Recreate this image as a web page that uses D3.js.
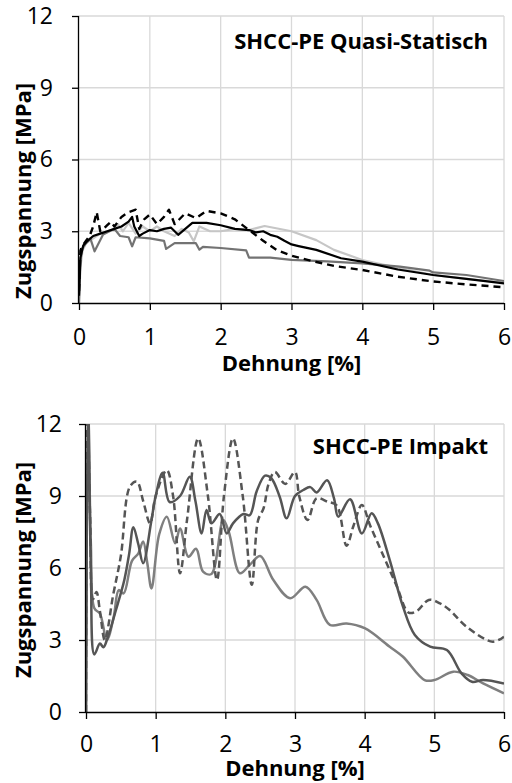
<!DOCTYPE html>
<html>
<head>
<meta charset="utf-8">
<script src="https://cdn.jsdelivr.net/npm/d3@7"></script>
<style>
  body { margin: 0; background: #fff; }
  svg { display: block; font-family: 'Open Sans', sans-serif; }
</style>
</head>
<body>
<div id="chart"></div>
<script>
// Achsen — gleiche Ticks in beiden Diagrammen
const xTicks = [0, 1, 2, 3, 4, 5, 6]
const yTicks = [0, 3, 6, 9, 12]

// Quasi-statisch — 4 Proben [Dehnung %, Spannung MPa]
const qsDashed = [[0,0.5],[0.02,2.2],[0.05,2.4],[0.1,2.6],[0.15,2.8],[0.2,3.2],[0.25,3.8],[0.3,3.0],[0.38,3.2],[0.45,3.4],[0.5,3.2],[0.6,3.6],[0.7,3.8],[0.8,3.9],[0.85,3.1],[0.92,3.5],[1.0,3.7],[1.1,3.3],[1.2,3.6],[1.27,3.9],[1.35,3.3],[1.5,3.75],[1.65,3.55],[1.8,3.85],[2.0,3.75],[2.2,3.5],[2.4,3.05],[2.6,2.6],[2.8,2.2],[3.0,1.98],[3.3,1.75],[3.6,1.55],[4.0,1.38],[4.5,1.1],[5.0,0.9],[5.5,0.77],[6.0,0.66]]
const qsBlack = [[0,0.3],[0.02,1.9],[0.06,2.4],[0.12,2.6],[0.2,2.8],[0.3,2.9],[0.4,3.0],[0.5,3.1],[0.6,3.2],[0.7,3.4],[0.75,3.6],[0.78,3.2],[0.85,2.8],[0.9,2.9],[1.0,3.05],[1.1,3.0],[1.2,3.1],[1.3,3.15],[1.4,2.85],[1.5,3.1],[1.6,3.35],[1.8,3.35],[2.0,3.25],[2.2,3.1],[2.4,3.05],[2.5,2.95],[2.6,3.0],[2.7,2.85],[2.8,2.77],[2.9,2.6],[3.0,2.45],[3.1,2.38],[3.35,2.22],[3.7,1.87],[4.0,1.73],[4.5,1.4],[5.0,1.17],[5.5,1.0],[6.0,0.82]]
const qsLight = [[0,0],[0.02,1.5],[0.05,2.2],[0.1,2.5],[0.2,2.7],[0.3,2.9],[0.4,3.0],[0.5,3.1],[0.55,3.3],[0.62,3.0],[0.7,3.35],[0.8,2.9],[0.9,3.2],[1.0,3.0],[1.1,3.2],[1.2,3.0],[1.35,2.8],[1.45,3.1],[1.55,2.95],[1.62,2.58],[1.7,3.2],[1.85,3.0],[2.0,3.0],[2.2,3.1],[2.4,3.05],[2.62,3.22],[3.0,3.0],[3.35,2.63],[3.6,2.22],[4.0,1.8],[4.5,1.47],[5.0,1.17],[5.5,1.0],[6.0,0.85]]
const qsDark = [[0,0],[0.02,1.8],[0.05,2.3],[0.1,2.5],[0.16,2.7],[0.22,2.16],[0.34,2.86],[0.5,3.1],[0.58,2.8],[0.7,2.75],[0.75,2.37],[0.8,2.75],[1.0,2.7],[1.2,2.6],[1.23,2.26],[1.35,2.5],[1.65,2.5],[1.7,2.23],[1.75,2.35],[2.0,2.3],[2.36,2.2],[2.4,1.9],[2.7,1.9],[3.0,1.8],[3.5,1.74],[4.0,1.66],[4.53,1.52],[4.95,1.35],[5.0,1.28],[5.47,1.17],[6.0,0.92]]

// Impakt — 3 Proben
const imSolid = [[0,0],[0.03,13],[0.07,6],[0.12,2.4],[0.2,2.85],[0.25,2.7],[0.3,3.0],[0.43,4.25],[0.55,5.5],[0.62,6.6],[0.68,7.7],[0.75,7.0],[0.82,6.2],[0.94,8.0],[1.0,9.0],[1.1,9.97],[1.2,8.75],[1.35,9.0],[1.49,9.8],[1.57,8.8],[1.66,7.44],[1.73,8.42],[1.8,7.86],[1.92,8.25],[2.02,7.44],[2.11,7.86],[2.26,8.25],[2.35,8.2],[2.45,9.2],[2.57,9.85],[2.66,9.74],[2.78,8.97],[2.88,8.07],[3.0,9.0],[3.12,9.25],[3.22,9.37],[3.31,9.15],[3.46,9.66],[3.56,8.9],[3.62,8.14],[3.79,8.86],[3.96,7.44],[4.1,8.28],[4.19,7.86],[4.36,6.33],[4.55,4.39],[4.72,3.21],[4.94,2.72],[5.18,2.58],[5.39,1.61],[5.54,1.26],[5.7,1.33],[6.0,1.19]]
const imDashed = [[0,0],[0.02,13],[0.06,8],[0.1,4.7],[0.15,5.0],[0.2,4.2],[0.27,3.0],[0.39,4.88],[0.5,6.5],[0.63,9.39],[0.73,9.6],[0.82,8.8],[0.92,7.86],[1.0,9.0],[1.16,10.08],[1.25,9.0],[1.35,5.78],[1.45,8.0],[1.61,11.4],[1.75,9.0],[1.88,5.5],[1.98,9.0],[2.11,11.4],[2.25,9.0],[2.38,5.3],[2.47,7.99],[2.55,8.5],[2.62,9.5],[2.71,10.0],[2.86,9.5],[3.0,10.0],[3.06,9.0],[3.18,8.0],[3.31,8.9],[3.47,8.76],[3.6,8.6],[3.74,6.93],[3.84,7.76],[3.96,8.62],[4.08,7.76],[4.27,6.5],[4.46,5.25],[4.63,4.14],[4.75,4.21],[4.92,4.67],[5.08,4.53],[5.22,4.25],[5.46,3.56],[5.84,2.93],[6.0,3.14]]
const imLight = [[0,0],[0.03,13],[0.07,7],[0.12,4.32],[0.2,4.1],[0.3,3.0],[0.4,4.0],[0.47,5.08],[0.54,4.94],[0.66,6.3],[0.75,6.6],[0.82,7.1],[0.88,6.2],[0.94,5.15],[1.05,7.4],[1.16,8.14],[1.28,7.03],[1.35,7.65],[1.47,6.47],[1.58,6.8],[1.68,5.85],[1.8,5.75],[1.97,8.0],[2.05,7.5],[2.21,5.78],[2.35,6.13],[2.5,6.5],[2.69,5.5],[2.93,4.74],[3.15,5.22],[3.31,4.67],[3.5,3.63],[3.74,3.69],[4.0,3.49],[4.36,2.72],[4.55,2.3],[4.86,1.33],[5.0,1.33],[5.27,1.68],[5.48,1.54],[5.7,1.19],[6.0,0.78]]

const GRID = '#d9d9d9'
const FONT = 'Open Sans'

const svg = d3.select('#chart').append('svg')
  .attr('width', 512).attr('height', 783)

function buildPanel(cfg) {
  const x = d3.scaleLinear().domain([0, 6]).range([cfg.left, 504])
  const y = d3.scaleLinear().domain([0, 12]).range([cfg.bottom, cfg.top])

  const g = svg.append('g')

  // Gitter
  g.append('g').selectAll('line').data(yTicks.slice(1)).join('line')
    .attr('x1', x(0)).attr('x2', x(6))
    .attr('y1', d => y(d)).attr('y2', d => y(d))
    .attr('stroke', GRID).attr('stroke-width', 1.3)
  g.append('g').selectAll('line').data(xTicks.slice(1)).join('line')
    .attr('x1', d => x(d)).attr('x2', d => x(d))
    .attr('y1', y(0)).attr('y2', y(12))
    .attr('stroke', GRID).attr('stroke-width', 1.3)

  // Kurven, auf Plotbereich beschnitten
  svg.append('clipPath').attr('id', cfg.id)
    .append('rect')
    .attr('x', x(0)).attr('y', y(12))
    .attr('width', x(6) - x(0)).attr('height', y(0) - y(12))

  const line = d3.line()
    .x(d => x(d[0])).y(d => y(d[1]))
    .curve(cfg.curve)

  const lines = g.append('g').attr('clip-path', `url(#${cfg.id})`)
  for (const s of cfg.series) {
    lines.append('path')
      .attr('d', line(s.data))
      .attr('fill', 'none')
      .attr('stroke', s.color)
      .attr('stroke-width', s.width)
      .attr('stroke-dasharray', s.dash || null)
      .attr('stroke-linejoin', 'round')
  }

  // Achsen
  g.append('g')
    .attr('transform', `translate(0,${y(0)})`)
    .call(d3.axisBottom(x).tickValues(xTicks).tickFormat(d3.format('d')).tickSize(7).tickPadding(cfg.xPad))
    .call(a => a.select('.domain').attr('stroke', '#000').attr('stroke-width', 1.5).attr('d', `M${x(0)},0.5H${x(6)}`))
    .call(a => a.selectAll('.tick line').attr('stroke', '#000').attr('stroke-width', 1.3))
    .call(a => a.selectAll('.tick text').attr('fill', '#000').attr('font-size', 23)
      .attr('font-family', FONT))

  g.append('g')
    .attr('transform', `translate(${x(0)},0)`)
    .call(d3.axisLeft(y).tickValues(yTicks).tickFormat(d3.format('d')).tickSize(7).tickPadding(cfg.yPad))
    .call(a => a.select('.domain').attr('stroke', '#000').attr('stroke-width', 1.3).attr('d', `M-0.5,${y(0)}V${y(12)}`))
    .call(a => a.selectAll('.tick line').attr('stroke', '#000').attr('stroke-width', 1.3))
    .call(a => a.selectAll('.tick text').attr('fill', '#000').attr('font-size', 23)
      .attr('font-family', FONT))

  // Achsentitel
  g.append('text')
    .attr('x', (x(0) + x(6)) / 2).attr('y', cfg.bottom + cfg.xTitle)
    .attr('text-anchor', 'middle')
    .attr('font-weight', 'bold').attr('font-size', 22)
    .text('Dehnung [%]')

  g.append('text')
    .attr('transform', `translate(31,${cfg.yTitle}) rotate(-90)`)
    .attr('text-anchor', 'middle')
    .attr('font-weight', 'bold').attr('font-size', 22)
    .text('Zugspannung [MPa]')

  // Diagrammtitel
  g.append('text')
    .attr('x', 488).attr('y', cfg.titleY)
    .attr('text-anchor', 'end')
    .attr('font-weight', 'bold').attr('font-size', 22)
    .text(cfg.title)
}

buildPanel({
  id: 'clipQS', left: 79, top: 16, bottom: 303, xPad: 19, yPad: 19, xTitle: 68, yTitle: 191, titleY: 49,
  title: 'SHCC-PE Quasi-Statisch',
  curve: d3.curveLinear,
  series: [
    { data: qsLight,  color: '#c6c6c6', width: 2.2 },
    { data: qsDark,   color: '#737373', width: 2.2 },
    { data: qsBlack,  color: '#000000', width: 2.2 },
    { data: qsDashed, color: '#000000', width: 2.4, dash: '7 5' },
  ]
})

buildPanel({
  id: 'clipIM', left: 86, top: 424, bottom: 712, xPad: 17, yPad: 17, xTitle: 64, yTitle: 570, titleY: 454,
  title: 'SHCC-PE Impakt',
  curve: d3.curveCatmullRom.alpha(0.5),
  series: [
    { data: imLight,  color: '#7f7f7f', width: 2.5 },
    { data: imSolid,  color: '#555555', width: 2.5 },
    { data: imDashed, color: '#555555', width: 2.5, dash: '7 4' },
  ]
})
</script>
</body>
</html>
